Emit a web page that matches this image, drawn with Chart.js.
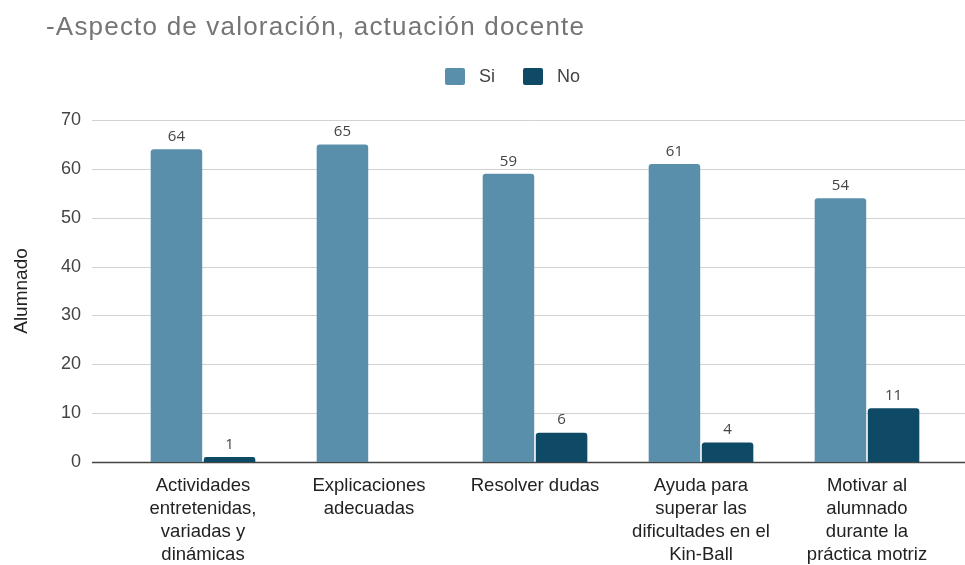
<!DOCTYPE html>
<html lang="es">
<head>
  <meta charset="UTF-8">
  <title>Aspecto de valoración, actuación docente</title>
  <script src="https://cdn.jsdelivr.net/npm/chart.js"></script>
  <style>
    body {
      margin: 0;
      padding: 0;
      background-color: #fff;
      font-family: 'Liberation Sans', Arial, sans-serif;
    }

    #wrap {
      position: relative;
      width: 965px;
      height: 565px;
    }

    #title {
      position: absolute;
      left: 46px;
      top: 13px;
      margin: 0;
      font-size: 26px;
      line-height: 26px;
      font-weight: normal;
      letter-spacing: 1.2px;
      color: #757575;
      white-space: nowrap;
    }

    #legend {
      position: absolute;
      left: 445px;
      top: 66px;
      height: 20px;
      display: flex;
      align-items: center;
      font-size: 18px;
      color: #444;
    }

    #legend .box {
      display: inline-block;
      width: 20px;
      height: 17px;
      border-radius: 2px;
      margin-right: 14px;
    }

    #legend .item {
      display: flex;
      align-items: center;
      margin-right: 28px;
    }

    canvas {
      position: absolute;
      left: 0;
      top: 0;
    }
  </style>
</head>
<body>
  <div id="wrap">
    <canvas id="chart"></canvas>
    <h1 id="title">-Aspecto de valoración, actuación docente</h1>
    <div id="legend"></div>
  </div>

  <script>
    const categories = [
      ['Actividades', 'entretenidas,', 'variadas y', 'dinámicas'],
      ['Explicaciones', 'adecuadas'],
      ['Resolver dudas'],
      ['Ayuda para', 'superar las', 'dificultades en el', 'Kin-Ball'],
      ['Motivar al', 'alumnado', 'durante la', 'práctica motriz']
    ];
    const siValues = [64, 65, 59, 61, 54];
    const noValues = [1, 0, 6, 4, 11];
    const seriesNames = ['Si', 'No'];
    const seriesColors = ['#5a8fac', '#0e4a66'];
    const yTicks = [0, 10, 20, 30, 40, 50, 60, 70];

    const FONT = "'Liberation Sans', Arial, sans-serif";

    // legend built from the series
    const legendEl = document.getElementById('legend');
    seriesNames.forEach((name, i) => {
      const item = document.createElement('span');
      item.className = 'item';
      item.innerHTML = '<span class="box" style="background:' + seriesColors[i] + '"></span>' + name;
      legendEl.appendChild(item);
    });

    // horizontal grid lines run past the plot area on both sides
    const gridPlugin = {
      id: 'wideGrid',
      beforeDatasetsDraw(chart) {
        const { ctx, chartArea, scales } = chart;
        const x0 = chartArea.left - 28;
        const x1 = chart.width;
        ctx.save();
        yTicks.forEach((v) => {
          const y = Math.round(scales.y.getPixelForValue(v)) + 0.5;
          ctx.beginPath();
          ctx.strokeStyle = v === 0 ? '#444' : '#d2d2d2';
          ctx.lineWidth = v === 0 ? 1.6 : 1;
          ctx.moveTo(x0, y);
          ctx.lineTo(x1, y);
          ctx.stroke();
        });
        ctx.restore();
      }
    };

    // value labels above the bars
    const valueLabels = {
      id: 'valueLabels',
      afterDatasetsDraw(chart) {
        const { ctx } = chart;
        ctx.save();
        ctx.font = "15px 'Open Sans', sans-serif";
        ctx.fillStyle = '#444';
        ctx.textAlign = 'center';
        ctx.textBaseline = 'bottom';
        chart.data.datasets.forEach((ds, i) => {
          chart.getDatasetMeta(i).data.forEach((bar, j) => {
            const v = ds.data[j];
            if (!v) return;
            ctx.fillText(String(v), bar.x, bar.y - 5);
          });
        });
        ctx.restore();
      }
    };

    new Chart(document.getElementById('chart'), {
      type: 'bar',
      data: {
        labels: categories,
        datasets: [
          { label: seriesNames[0], data: siValues, backgroundColor: seriesColors[0] },
          { label: seriesNames[1], data: noValues, backgroundColor: seriesColors[1] }
        ]
      },
      options: {
        responsive: true,
        maintainAspectRatio: false,
        animation: false,
        layout: { padding: { left: 10, right: 15, top: 120, bottom: 0 } },
        datasets: {
          bar: {
            categoryPercentage: 0.64,
            barPercentage: 0.97,
            borderRadius: { topLeft: 3, topRight: 3 },
            borderSkipped: 'start'
          }
        },
        plugins: {
          legend: { display: false },
          title: { display: false },
          tooltip: { enabled: false }
        },
        scales: {
          x: {
            grid: { display: false, drawTicks: false },
            border: { display: false },
            ticks: {
              color: '#222',
              padding: 12,
              maxRotation: 0,
              autoSkip: false,
              font: { family: FONT, size: 18.5, lineHeight: '23px' }
            },
            afterFit(scale) { scale.height = 103; }
          },
          y: {
            min: 0,
            max: 70,
            afterBuildTicks(scale) { scale.ticks = yTicks.map((v) => ({ value: v })); },
            grid: { display: false },
            border: { display: false },
            ticks: {
              color: '#444',
              padding: 31,
              font: { family: FONT, size: 18 }
            },
            title: {
              display: true,
              text: 'Alumnado',
              color: '#222',
              padding: { top: 0, bottom: 0 },
              font: { family: FONT, size: 19 }
            },
            afterFit(scale) { scale.width = 110; }
          }
        }
      },
      plugins: [gridPlugin, valueLabels]
    });
  </script>
</body>
</html>
